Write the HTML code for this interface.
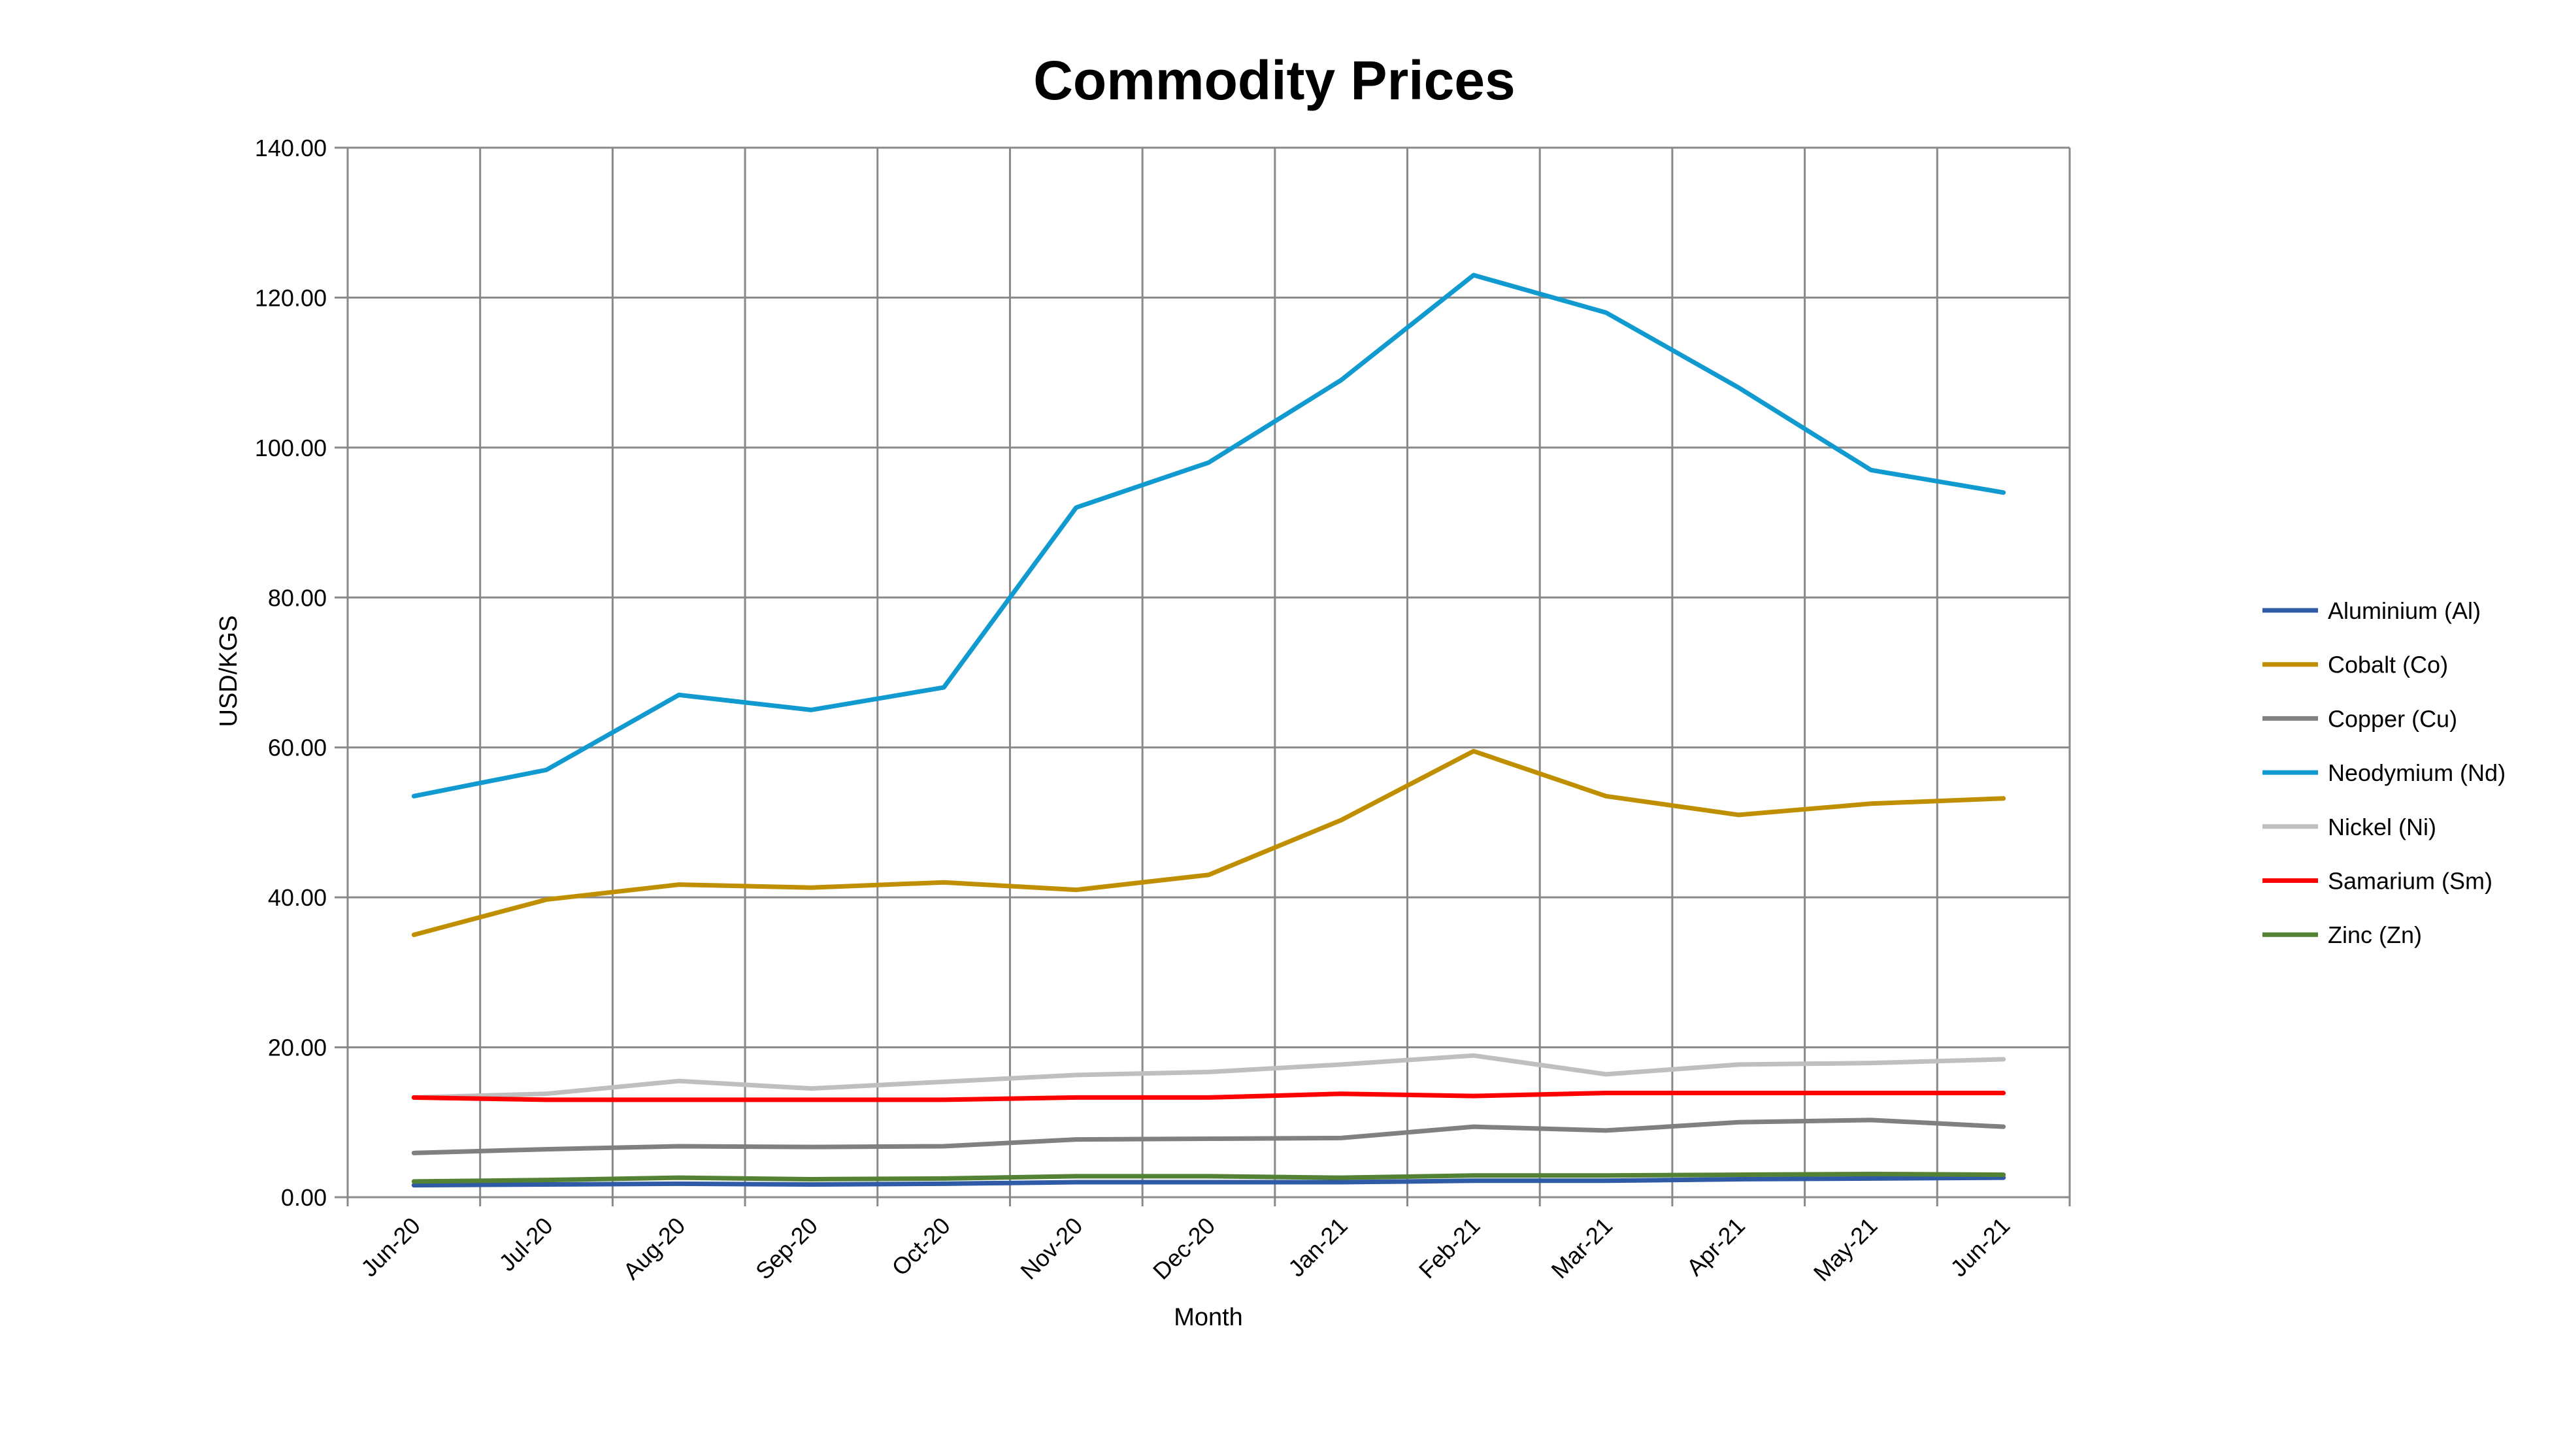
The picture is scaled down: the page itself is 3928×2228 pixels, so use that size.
<!DOCTYPE html>
<html><head><meta charset="utf-8"><style>
html,body{margin:0;padding:0;background:#fff;}
svg{display:block;font-family:"Liberation Sans",sans-serif;}
</style></head><body>
<svg id="chart" width="3928" height="2228" viewBox="0 0 3928 2228" xmlns="http://www.w3.org/2000/svg">
<rect width="3928" height="2228" fill="#fff"/>
<text x="1950" y="152" text-anchor="middle" font-size="84" font-weight="bold" fill="#000">Commodity Prices</text>
<g id="grid"></g>
<g id="series"></g>
<g id="labels"></g>
<text x="1849" y="2028" text-anchor="middle" font-size="38" fill="#000">Month</text>
<text transform="translate(362,1027) rotate(-90)" text-anchor="middle" font-size="38" fill="#000">USD/KGS</text>
<g id="legend"></g>
</svg>
<script>
const categories = ["Jun-20","Jul-20","Aug-20","Sep-20","Oct-20","Nov-20","Dec-20","Jan-21","Feb-21","Mar-21","Apr-21","May-21","Jun-21"];
const yTicks = [0,20,40,60,80,100,120,140];
const seriesNames = ["Aluminium (Al)","Cobalt (Co)","Copper (Cu)","Neodymium (Nd)","Nickel (Ni)","Samarium (Sm)","Zinc (Zn)"];
const seriesColors = ["#2F5BA6","#BF8F00","#808080","#109AD0","#BFBFBF","#FF0000","#548235"];
const aluminium = [1.6,1.7,1.8,1.7,1.8,2.0,2.0,2.0,2.2,2.2,2.4,2.5,2.6];
const cobalt = [35,39.7,41.7,41.3,42,41,43,50.3,59.5,53.5,51,52.5,53.2];
const copper = [5.9,6.4,6.8,6.7,6.8,7.7,7.8,7.9,9.4,8.9,10,10.3,9.4];
const neodymium = [53.5,57,67,65,68,92,98,109,123,118,108,97,94];
const nickel = [13.3,13.8,15.5,14.5,15.4,16.3,16.7,17.7,18.9,16.4,17.7,17.9,18.4];
const samarium = [13.3,13,13,13,13,13.3,13.3,13.8,13.5,13.9,13.9,13.9,13.9];
const zinc = [2.1,2.3,2.6,2.4,2.5,2.8,2.8,2.6,2.9,2.9,3.0,3.1,3.0];
const seriesValues = [aluminium,cobalt,copper,neodymium,nickel,samarium,zinc];

const NS="http://www.w3.org/2000/svg";
const L=532,R=3167,T=226,B=1832,yMax=140;
const step=(R-L)/categories.length;
const xPos=i=>L+step*(i+0.5);
const yPos=v=>B-(v/yMax)*(B-T);
function mk(tag,attrs,parent){const e=document.createElementNS(NS,tag);for(const k in attrs)e.setAttribute(k,attrs[k]);parent.appendChild(e);return e;}
const grid=document.getElementById('grid'),labels=document.getElementById('labels'),series=document.getElementById('series'),legend=document.getElementById('legend');

yTicks.forEach(v=>{
  const y=yPos(v);
  const g=mk('line',{x1:L-20,x2:R,y1:y,y2:y,stroke:'#898989','stroke-width':3},grid);
  
  
  const t=mk('text',{x:500,y:y+13,'text-anchor':'end','font-size':36,fill:'#000'},labels);
  
  
  t.textContent=v.toFixed(2);
});
for(let i=0;i<=categories.length;i++){
  const x=L+step*i;
  const g=mk('line',{x1:x,x2:x,y1:T,y2:B+14,stroke:'#898989','stroke-width':3},grid);
  
  
}
categories.forEach((c,i)=>{
  const x=xPos(i)+12,y=1878;
  const t=mk('text',{x:x,y:y,'text-anchor':'end','font-size':36,fill:'#000',transform:`rotate(-45 ${x} ${y})`},labels);
  
  
  t.textContent=c;
});
seriesValues.forEach((vals,s)=>{
  const pts=vals.map((v,i)=>xPos(i)+','+yPos(v)).join(' ');
  const p=mk('polyline',{points:pts,fill:'none',stroke:seriesColors[s],'stroke-width':7,'stroke-linejoin':'round','stroke-linecap':'round'},series);
  
  
});
seriesNames.forEach((n,s)=>{
  const y=934+s*82.7;
  const g=mk('g',{},legend);
  
  
  mk('line',{x1:3462,x2:3547,y1:y,y2:y,stroke:seriesColors[s],'stroke-width':7},g);
  const t=mk('text',{x:3562,y:y+13,'font-size':36,fill:'#000'},g);
  t.textContent=n;
});
</script>
</body></html>
